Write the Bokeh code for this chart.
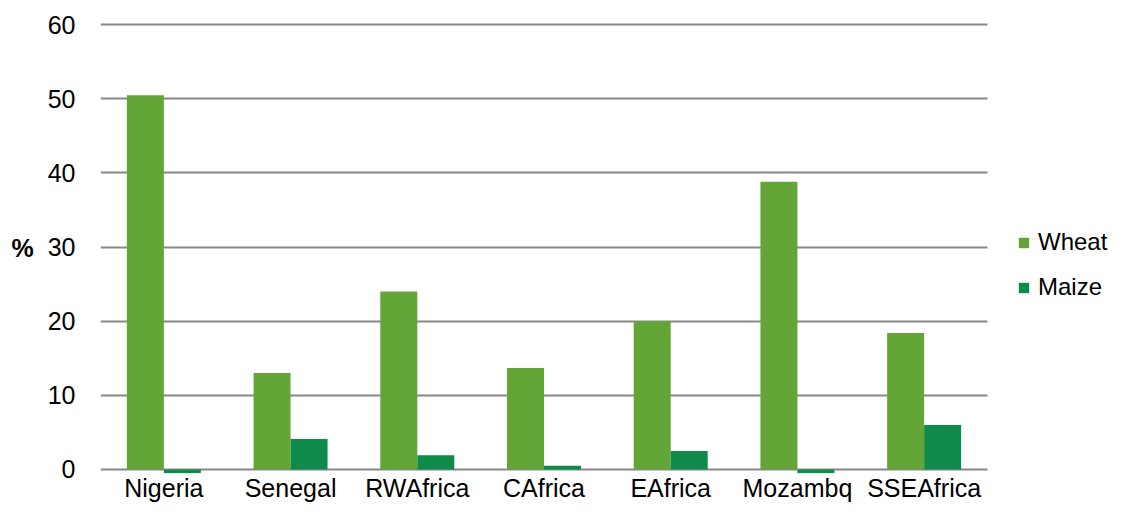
from bokeh.plotting import figure
from bokeh.models import ColumnDataSource, Range1d, FixedTicker, Legend, LegendItem, BoxAnnotation
from bokeh.transform import dodge
from bokeh.embed import file_html
from bokeh.resources import INLINE

regions = ["Nigeria", "Senegal", "RWAfrica", "CAfrica", "EAfrica", "Mozambq", "SSEAfrica"]
wheat = [50.5, 13.0, 24.0, 13.7, 20.0, 38.8, 18.4]
maize = [-0.5, 4.1, 1.9, 0.5, 2.5, -0.5, 6.0]
y_ticks = [0, 10, 20, 30, 40, 50, 60]

WHEAT_C = "#63A537"
MAIZE_C = "#0E8A4B"
FONT = "Liberation Sans"
FS = "25px"

n = len(regions)
xpos = [i + 0.5 for i in range(n)]
src = ColumnDataSource(dict(x=xpos, region=regions, wheat=wheat, maize=maize))

# categories fill [0, n]; extra room to the right holds the legend
p = figure(width=1110, height=504, x_range=Range1d(0, n + 123 / 126.7),
           y_range=Range1d(-0.55, 60.3), output_backend="svg", toolbar_location=None,
           min_border_left=100, min_border_right=0, min_border_top=22, min_border_bottom=30)
p.outline_line_color = None
p.background_fill_color = "white"
p.border_fill_color = "white"

bw = 0.292
r1 = p.vbar(x=dodge("x", -bw / 2), top="wheat", bottom=0, width=bw,
            source=src, fill_color=WHEAT_C, line_color=None)
r2 = p.vbar(x=dodge("x", bw / 2), top="maize", bottom=0, width=bw,
            source=src, fill_color=MAIZE_C, line_color=None)

p.xgrid.grid_line_color = None
p.ygrid.grid_line_color = "#888888"
p.ygrid.grid_line_width = 2
p.yaxis.ticker = FixedTicker(ticks=y_ticks)
try:
    p.ygrid.cross_bounds = (0, n)
except Exception:
    p.add_layout(BoxAnnotation(left=n, fill_color="white", fill_alpha=1.0, line_color=None))

p.xaxis.ticker = FixedTicker(ticks=xpos)
p.xaxis.major_label_overrides = {x: r for x, r in zip(xpos, regions)}

for ax in (p.xaxis[0], p.yaxis[0]):
    ax.axis_line_color = None
    ax.major_tick_line_color = None
    ax.minor_tick_line_color = None
    ax.major_tick_out = 0
    ax.major_tick_in = 0
    ax.minor_tick_out = 0
    ax.major_label_text_font = FONT
    ax.major_label_text_font_size = FS
    ax.major_label_text_color = "#000000"

p.xaxis.major_label_standoff = 0
p.yaxis.major_label_standoff = 25
p.yaxis.axis_label = "%"
p.yaxis.axis_label_text_font = FONT
p.yaxis.axis_label_text_font_size = FS
p.yaxis.axis_label_text_font_style = "bold"
p.yaxis.axis_label_text_color = "#000000"
p.yaxis.axis_label_standoff = 11
p.yaxis.axis_label_orientation = "horizontal"

legend = Legend(items=[LegendItem(label="Wheat", renderers=[r1]),
                       LegendItem(label="Maize", renderers=[r2])],
                location=(917, 171))
legend.border_line_color = None
legend.background_fill_alpha = 0
legend.padding = 0
legend.margin = 0
legend.glyph_width = 13
legend.glyph_height = 13
legend.label_standoff = 8
legend.label_height = 30
legend.spacing = 15
legend.label_text_font = FONT
legend.label_text_font_size = "24px"
legend.label_text_color = "#000000"
p.add_layout(legend, "center")

open("out.html", "w").write(file_html(p, INLINE))
